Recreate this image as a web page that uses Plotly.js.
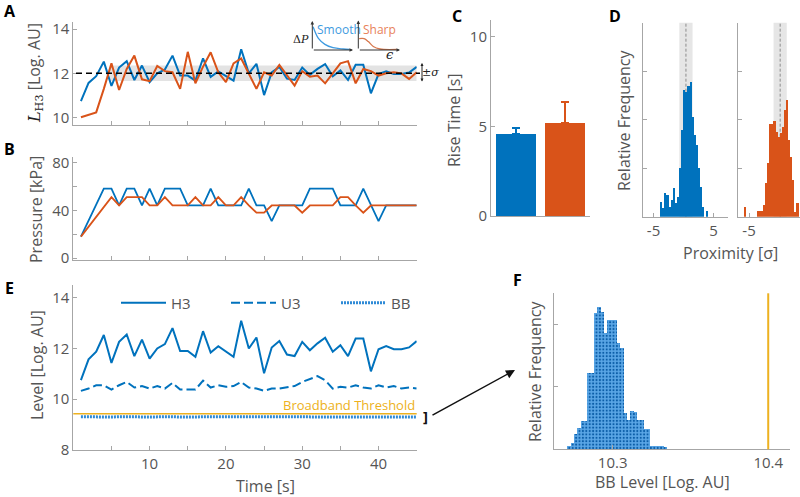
<!DOCTYPE html>
<html>
<head>
<meta charset="utf-8">
<script src="https://cdn.plot.ly/plotly-3.0.1.min.js"></script>
<style>body{margin:0;background:#fff} #graph{width:800px;height:497px}</style>
</head>
<body>
<div id="graph"></div>
<script>
// H3 level per second, smooth and sharp pressure profiles (panel A, E)
const h3Smooth = [10.75, 11.57, 11.87, 12.53, 11.43, 12.26, 12.55, 11.7, 12.35, 11.6, 12.0, 12.17, 12.8, 11.9, 11.9,
  11.67, 12.68, 11.84, 12.09, 11.87, 11.67, 13.09, 12.0, 12.43, 11.02, 12.04, 12.29, 11.76, 11.7, 12.26,
  11.93, 12.2, 12.42, 11.87, 12.13, 11.7, 12.39, 12.39, 11.1, 11.97, 12.09, 11.97, 11.97, 12.04, 12.29]
const h3Sharp = [10.02, 10.13, 10.24, 11.3, 12.45, 11.25, 12.2, 12.8, 11.73, 11.65, 12.33, 12.1, 12.05, 11.3, 12.97,
  11.55, 12.3, 12.95, 12.05, 11.6, 12.45, 12.67, 12.0, 11.3, 12.05, 11.9, 12.38, 11.9, 11.45, 12.1,
  11.85, 11.9, 11.55, 12.0, 12.45, 12.55, 11.55, 12.2, 12.1, 11.9, 12.0, 12.05, 12.0, 11.75, 12.05]
const u3Level = [10.33, 10.42, 10.55, 10.55, 10.38, 10.55, 10.68, 10.46, 10.52, 10.42, 10.52, 10.42, 10.64, 10.38, 10.38,
  10.38, 10.73, 10.46, 10.55, 10.49, 10.52, 10.68, 10.46, 10.42, 10.33, 10.42, 10.42, 10.46, 10.52, 10.68,
  10.78, 10.91, 10.75, 10.42, 10.49, 10.46, 10.55, 10.46, 10.42, 10.55, 10.46, 10.52, 10.42, 10.46, 10.42]
const bbLevel = [9.31, 9.30, 9.31, 9.31, 9.30, 9.31, 9.32, 9.31, 9.30, 9.31, 9.31, 9.32, 9.31, 9.30, 9.29,
  9.30, 9.31, 9.31, 9.30, 9.31, 9.31, 9.30, 9.30, 9.31, 9.30, 9.30, 9.31, 9.31, 9.32, 9.31,
  9.31, 9.31, 9.32, 9.30, 9.31, 9.30, 9.30, 9.31, 9.31, 9.31, 9.30, 9.31, 9.31, 9.30, 9.30]
const h3Target = 12
const h3Sigma = 0.35
const bandStart = 4.8
const bbThreshold = 9.43
const timeTicks = [10, 20, 30, 40]

// pressure commands [kPa] (panel B)
const pressureSmooth = [18, 31, 44, 58, 58, 44, 58, 58, 44, 58, 44, 58, 58, 58, 44,
  44, 44, 58, 44, 44, 44, 44, 58, 44, 44, 31, 44, 44, 44, 44,
  58, 58, 58, 58, 44, 44, 44, 58, 44, 31, 44, 44, 44, 44, 44]
const pressureSharp = [18, 26, 34.5, 43, 51, 44, 51, 51, 51, 44, 44, 51, 44, 44, 44,
  51, 44, 44, 51, 44, 44, 51, 44, 38, 38, 44, 44, 44, 44, 38,
  44, 44, 44, 44, 51, 51, 44, 38, 44, 44, 44, 44, 44, 44, 44]

// rise time (panel C)
const profiles = ['Smooth', 'Sharp']
const riseTime = [4.57, 5.17]
const riseTimeErr = [0.33, 1.2]

// proximity histograms (panel D)
const proxBinWidth = 0.35
const proxSmoothStart = -3.9
const proxSmooth = [0.0155, 0.0086, 0.0247, 0.0223, 0.0103, 0.0172, 0.0292, 0.0137, 0.0206, 0.0498, 0.0893, 0.1306,
  0.1289, 0.1347, 0.1392, 0.1031, 0.0842, 0.0739, 0.0498, 0.0309, 0.0103, 0, 0.0058, 0]
const proxSharpStart = -5.82
const proxSharp = [0.0103, 0, 0, 0, 0, 0, 0.0062, 0.0062, 0.0062, 0.012, 0.035, 0.055, 0.0955, 0.0955, 0.099,
  0.0876, 0.0825, 0.0859, 0.0928, 0.11, 0.1203, 0.079, 0.0619, 0.0378, 0.0052, 0.0137]
const proxMean = [0.4, 0.2]
const proxBand = 1.1

// BB level histogram (panel F)
const bbBinStart = 10.2708
const bbBinWidth = 0.00214
const bbHist = [0.0027, 0.0048, 0.0123, 0.0168, 0.0229, 0.0229, 0.0608, 0.0608, 0.1088, 0.1136, 0.1101, 0.0933,
  0.1035, 0.1035, 0.1035, 0.0848, 0.0808, 0.0288, 0.0235, 0.0309, 0.0301, 0.0235, 0.0235, 0.016, 0.016,
  0.0027, 0.0027, 0.0027, 0.0027, 0.0021]
const bbLimit = 10.4

// inset sketches of the two pressure profiles
const smoothEps = [0.02, 0.15, 0.31, 0.51, 0.76, 0.92]
const smoothDp = [0.82, 0.41, 0.2, 0.08, 0.035, 0.02]
const sharpEps = [0.02, 0.14, 0.24, 0.36, 0.52, 0.92]
const sharpDp = [0.39, 0.39, 0.29, 0.12, 0.035, 0.02]

const blue = '#0072BD', orange = '#D95319', yellow = '#EDB120'
const grey = '#555555', lineGrey = '#a6a6a6'
const px = x => x / 800
const py = y => 1 - y / 497

const axisStyle = {
  showline: true, linecolor: lineGrey, linewidth: 1,
  ticks: 'inside', ticklen: 4, tickcolor: lineGrey,
  showgrid: false, zeroline: false, fixedrange: true,
  tickfont: {size: 15, color: grey}
}
const bare = {visible: true, showline: false, showticklabels: false, ticks: '', showgrid: false, zeroline: false, fixedrange: true}

const data = [
  // A
  {x0: 1, dx: 1, y: h3Smooth, xaxis: 'x', yaxis: 'y', mode: 'lines', line: {color: blue, width: 2}, showlegend: false},
  {x0: 1, dx: 1, y: h3Sharp, xaxis: 'x', yaxis: 'y', mode: 'lines', line: {color: orange, width: 2}, showlegend: false},
  // B
  {x0: 1, dx: 1, y: pressureSmooth, xaxis: 'x2', yaxis: 'y2', mode: 'lines', line: {color: blue, width: 1.8}, showlegend: false},
  {x0: 1, dx: 1, y: pressureSharp, xaxis: 'x2', yaxis: 'y2', mode: 'lines', line: {color: orange, width: 1.8}, showlegend: false},
  // E
  {x0: 1, dx: 1, y: h3Smooth, xaxis: 'x3', yaxis: 'y3', mode: 'lines', name: 'H3', line: {color: blue, width: 2}},
  {x0: 1, dx: 1, y: u3Level, xaxis: 'x3', yaxis: 'y3', mode: 'lines', name: 'U3', line: {color: blue, width: 2, dash: '9px,4px'}},
  {x0: 1, dx: 1, y: bbLevel, xaxis: 'x3', yaxis: 'y3', mode: 'lines', name: 'BB', line: {color: '#2f8ad6', width: 3, dash: '2px,1px'}},
  // C
  {type: 'bar', x: [profiles[0]], y: [riseTime[0]], xaxis: 'x4', yaxis: 'y4', width: 0.81, marker: {color: blue},
    error_y: {type: 'data', symmetric: false, array: [riseTimeErr[0]], arrayminus: [0], color: blue, thickness: 2, width: 4}, showlegend: false},
  {type: 'bar', x: [profiles[1]], y: [riseTime[1]], xaxis: 'x4', yaxis: 'y4', width: 0.81, marker: {color: orange},
    error_y: {type: 'data', symmetric: false, array: [riseTimeErr[1]], arrayminus: [0], color: orange, thickness: 2, width: 4}, showlegend: false},
  // D
  {type: 'bar', x0: proxSmoothStart + proxBinWidth / 2, dx: proxBinWidth, y: proxSmooth, width: proxBinWidth,
    xaxis: 'x5', yaxis: 'y5', marker: {color: blue, line: {width: 0}}, showlegend: false},
  {type: 'bar', x0: proxSharpStart + proxBinWidth / 2, dx: proxBinWidth, y: proxSharp, width: proxBinWidth,
    xaxis: 'x6', yaxis: 'y6', marker: {color: orange, line: {width: 0}}, showlegend: false},
  // F
  {type: 'bar', x0: bbBinStart + bbBinWidth / 2, dx: bbBinWidth, y: bbHist, width: bbBinWidth,
    xaxis: 'x7', yaxis: 'y7', showlegend: false,
    marker: {color: '#5aa6e6', line: {width: 0},
      pattern: {shape: '.', fgcolor: '#0b5ea8', bgcolor: '#5aa6e6', size: 3.4, solidity: 0.3}}},
  // inset sketches
  {x: smoothEps, y: smoothDp, xaxis: 'x8', yaxis: 'y8', mode: 'lines', line: {color: '#3f9be0', width: 1.3, shape: 'spline'}, showlegend: false},
  {x: sharpEps, y: sharpDp, xaxis: 'x9', yaxis: 'y9', mode: 'lines', line: {color: '#d7794f', width: 1.3, shape: 'spline'}, showlegend: false}
]

const timeAxis = {...axisStyle, range: [0, 45], dtick: 5, tick0: 0}

const layout = {
  width: 800, height: 497,
  margin: {l: 0, r: 0, t: 0, b: 0},
  paper_bgcolor: '#fff', plot_bgcolor: 'rgba(0,0,0,0)',
  font: {family: 'Open Sans', size: 15, color: grey},
  barmode: 'overlay', bargap: 0,
  xaxis: {...timeAxis, domain: [px(73.3), px(416.7)], anchor: 'y', showticklabels: false},
  yaxis: {...axisStyle, domain: [py(125), py(21.7)], anchor: 'x', range: [9.67, 14.33], dtick: 2, tick0: 10},
  xaxis2: {...timeAxis, domain: [px(73.3), px(416.7)], anchor: 'y2', showticklabels: false},
  yaxis2: {...axisStyle, domain: [py(260), py(156.7)], anchor: 'x2', range: [-1.5, 84.7], dtick: 40, tick0: 0,
    minor: {dtick: 20, ticks: 'inside', ticklen: 4, tickcolor: lineGrey}},
  xaxis3: {...axisStyle, domain: [px(73.3), px(416.7)], anchor: 'y3', range: [0, 45],
    tickvals: timeTicks, ticktext: timeTicks.map(String),
    minor: {tickmode: 'linear', tick0: 0, dtick: 5, ticks: 'inside', ticklen: 4, tickcolor: lineGrey}},
  yaxis3: {...axisStyle, domain: [py(450), py(285)], anchor: 'x3', range: [8, 14.5], dtick: 2, tick0: 8},
  xaxis4: {...axisStyle, domain: [px(491), px(590)], anchor: 'y4', type: 'category', range: [-0.5, 1.5], ticks: '', showticklabels: false},
  yaxis4: {...axisStyle, domain: [py(216), py(20)], anchor: 'x4', range: [0, 10.93], dtick: 5},
  xaxis5: {...axisStyle, domain: [px(642.7), px(728)], anchor: 'y5', range: [-6.8, 7.4], tickvals: [-5, 5], ticktext: ['-5', '5']},
  yaxis5: {...axisStyle, domain: [py(216.7), py(22.7)], anchor: 'x5', range: [0, 0.2], dtick: 0.05, showticklabels: false},
  xaxis6: {...axisStyle, domain: [px(738.3), 1], anchor: 'y6', range: [-6.8, -6.8 + 61.7 / 5.98], tickvals: [-5, 5], ticktext: ['-5', '5']},
  yaxis6: {...axisStyle, domain: [py(216.7), py(22.7)], anchor: 'x6', range: [0, 0.2], dtick: 0.05, showticklabels: false},
  xaxis7: {...axisStyle, domain: [px(554), px(790)], anchor: 'y7', range: [10.2623, 10.414], tickvals: [10.3, 10.4], ticktext: ['10.3', '10.4']},
  yaxis7: {...axisStyle, domain: [py(449.3), py(293.3)], anchor: 'x7', range: [0, 0.1248], dtick: 0.05, showticklabels: false},
  xaxis8: {...bare, domain: [px(312.3), px(353)], anchor: 'y8', range: [0, 1]},
  yaxis8: {...bare, domain: [py(50), py(21.7)], anchor: 'x8', range: [0, 1]},
  xaxis9: {...bare, domain: [px(358.3), px(400)], anchor: 'y9', range: [0, 1]},
  yaxis9: {...bare, domain: [py(50), py(21)], anchor: 'x9', range: [0, 1]},
  legend: {orientation: 'h', x: px(116), y: py(303), xanchor: 'left', yanchor: 'middle', itemwidth: 45,
    font: {size: 15, color: grey}, bgcolor: 'rgba(0,0,0,0)', entrywidth: 50, entrywidthmode: 'pixels'},
  shapes: [
    // A: target band and target line
    {type: 'rect', xref: 'x', yref: 'y', x0: bandStart, x1: 45, y0: h3Target - h3Sigma, y1: h3Target + h3Sigma,
      fillcolor: '#e3e3e3', line: {width: 0}, layer: 'below'},
    {type: 'line', xref: 'paper', yref: 'y', x0: px(76), x1: px(420), y0: h3Target, y1: h3Target,
      line: {color: '#000', width: 1.5, dash: '6px,4px'}},
    // E: broadband threshold
    {type: 'line', xref: 'x3 domain', yref: 'y3', x0: 0, x1: 1, y0: bbThreshold, y1: bbThreshold,
      line: {color: yellow, width: 1.5}},
    // D: band and mean
    {type: 'rect', xref: 'x5', yref: 'y5 domain', x0: proxMean[0] - proxBand, x1: proxMean[0] + proxBand, y0: 0, y1: 1,
      fillcolor: '#e6e6e6', line: {width: 0}, layer: 'below'},
    {type: 'line', xref: 'x5', yref: 'y5 domain', x0: proxMean[0], x1: proxMean[0], y0: 0, y1: 1,
      line: {color: '#8c8c8c', width: 1, dash: '3px,2px'}, layer: 'below'},
    {type: 'rect', xref: 'x6', yref: 'y6 domain', x0: proxMean[1] - proxBand, x1: proxMean[1] + proxBand, y0: 0, y1: 1,
      fillcolor: '#e6e6e6', line: {width: 0}, layer: 'below'},
    {type: 'line', xref: 'x6', yref: 'y6 domain', x0: proxMean[1], x1: proxMean[1], y0: 0, y1: 1,
      line: {color: '#8c8c8c', width: 1, dash: '3px,2px'}, layer: 'below'},
    // F: threshold
    {type: 'line', xref: 'x7', yref: 'y7 domain', x0: bbLimit, x1: bbLimit, y0: 0, y1: 1,
      line: {color: yellow, width: 2}}
  ],
  annotations: []
}

const ann = layout.annotations
function label(text, x, y, opts) {
  ann.push({text, x: px(x), y: py(y), xref: 'paper', yref: 'paper', showarrow: false,
    xanchor: 'center', yanchor: 'middle', ...opts})
}
// panel letters
const letters = [['A', 10, 11], ['B', 9, 149], ['E', 9, 288], ['C', 457, 16], ['D', 615, 16], ['F', 517, 280]]
letters.forEach(([t, x, y]) => label('<b>' + t + '</b>', x, y, {font: {size: 16, color: '#000', family: 'Open Sans'}}))
// axis titles
label('<span style="font-family:DejaVu Serif;color:#222"><i>L</i><sub>H3</sub></span> [Log. AU]', 35, 73, {textangle: -90, font: {size: 16}})
label('Pressure [kPa]', 36, 210, {textangle: -90, font: {size: 16}})
label('Level [Log. AU]', 37, 365, {textangle: -90, font: {size: 16}})
label('Time [s]', 265, 486, {font: {size: 16}})
label('Rise Time [s]', 454, 120, {textangle: -90, font: {size: 16}})
label('Relative Frequency', 624, 120, {textangle: -90, font: {size: 16}})
label('Proximity [σ]', 730, 253, {font: {size: 16}})
label('Relative Frequency', 535, 371, {textangle: -90, font: {size: 16}})
label('BB Level [Log. AU]', 662, 482, {font: {size: 16}})
// E threshold label
ann.push({text: 'Broadband Threshold', xref: 'x3', yref: 'y3', x: 45, y: bbThreshold, xanchor: 'right', yanchor: 'bottom',
  showarrow: false, font: {size: 13, color: yellow}, yshift: -2})
// inset labels and axes arrows
label('Smooth', 315, 29, {xanchor: 'left', font: {size: 12, color: '#3f9be0'}})
label('Sharp', 361, 29, {xanchor: 'left', font: {size: 12, color: '#e8825a'}})
label('Δ<i>P</i>', 301, 40, {font: {size: 11, color: '#222', family: 'DejaVu Serif'}})
label('<i>ϵ</i>', 390, 55, {font: {size: 13, color: '#222', family: 'DejaVu Serif'}})
const insetAxes = [[312.3, 50, 353, 50], [312.3, 50, 312.3, 21], [358.3, 50, 400, 50], [358.3, 50, 358.3, 20.5]]
insetAxes.forEach(([x0, y0, x1, y1]) => ann.push({x: px(x1), y: py(y1), xref: 'paper', yref: 'paper', text: '',
  showarrow: true, ax: x0 - x1, ay: y0 - y1, arrowhead: 2, arrowsize: 0.7, arrowwidth: 1, arrowcolor: '#333'}))
// ±σ marker
ann.push({x: px(422), y: py(63), xref: 'paper', yref: 'paper', text: '', showarrow: true, ax: 0, ay: 20,
  arrowside: 'end+start', arrowhead: 2, startarrowhead: 2, arrowsize: 0.6, startarrowsize: 0.6, arrowwidth: 1, arrowcolor: '#222'})
label('±<i>σ</i>', 431, 73, {font: {size: 11, color: '#222', family: 'DejaVu Serif'}})
// bracket and arrow to F
label('<b>]</b>', 425, 416, {font: {size: 15, color: '#111'}})
ann.push({x: px(515), y: py(370), xref: 'paper', yref: 'paper', text: '', showarrow: true, ax: -84, ay: 46,
  arrowhead: 2, arrowsize: 1.2, arrowwidth: 1.5, arrowcolor: '#111'})

Plotly.newPlot('graph', data, layout, {displayModeBar: false, staticPlot: true})
</script>
</body>
</html>
